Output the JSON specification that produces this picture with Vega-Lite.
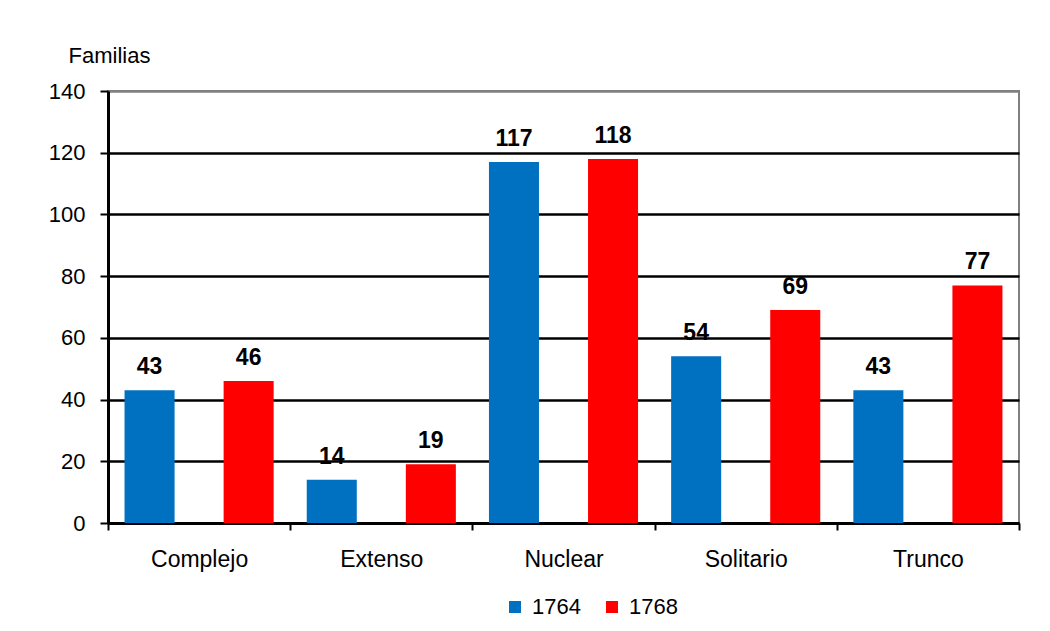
{
  "$schema": "https://vega.github.io/schema/vega-lite/v6.json",
  "autosize": {"type": "none"},
  "width": 911,
  "height": 432,
  "padding": {"left": 108, "top": 91, "right": 31, "bottom": 108},
  "background": "white",
  "config": {
    "font": "Liberation Sans",
    "view": {"stroke": "#808080", "strokeWidth": 2}
  },
  "data": {
    "values": [
      {"tipo": "Complejo", "anio": "1764", "familias": 43},
      {"tipo": "Complejo", "anio": "1768", "familias": 46},
      {"tipo": "Extenso", "anio": "1764", "familias": 14},
      {"tipo": "Extenso", "anio": "1768", "familias": 19},
      {"tipo": "Nuclear", "anio": "1764", "familias": 117},
      {"tipo": "Nuclear", "anio": "1768", "familias": 118},
      {"tipo": "Solitario", "anio": "1764", "familias": 54},
      {"tipo": "Solitario", "anio": "1768", "familias": 69},
      {"tipo": "Trunco", "anio": "1764", "familias": 43},
      {"tipo": "Trunco", "anio": "1768", "familias": 77}
    ]
  },
  "encoding": {
    "x": {
      "field": "tipo", "type": "nominal", "sort": null,
      "scale": {"paddingInner": 0, "paddingOuter": 0},
      "axis": {
        "title": null, "labelAngle": 0, "labelFontSize": 23, "labelColor": "black",
        "labelPadding": 18, "tickBand": "extent", "tickColor": "black", "tickWidth": 2, "tickSize": 7,
        "domainColor": "black", "domainWidth": 3, "grid": false
      }
    },
    "xOffset": {
      "field": "anio", "type": "nominal",
      "scale": {"paddingInner": 0.495, "paddingOuter": 0.167}
    },
    "y": {
      "field": "familias", "type": "quantitative",
      "scale": {"domain": [0, 140], "nice": false},
      "axis": {
        "values": [0, 20, 40, 60, 80, 100, 120, 140],
        "title": "Familias", "titleAngle": 0, "titleAlign": "left", "titleBaseline": "middle",
        "titleX": -40, "titleY": -36, "titleFontSize": 22, "titleFontWeight": "normal", "titleColor": "black",
        "labelFontSize": 22, "labelColor": "black", "labelPadding": 15,
        "tickColor": "black", "tickWidth": 2, "tickSize": 8,
        "domainColor": "black", "domainWidth": 3,
        "grid": true, "gridWidth": 2.5,
        "gridColor": {"condition": {"test": "datum.value == 140", "value": "#808080"}, "value": "black"}
      }
    }
  },
  "layer": [
    {
      "mark": {"type": "bar"},
      "encoding": {
        "color": {
          "field": "anio", "type": "nominal",
          "scale": {"domain": ["1764", "1768"], "range": ["#0070C0", "#FF0000"]},
          "legend": {
            "title": null, "orient": "none", "direction": "horizontal",
            "legendX": 396, "legendY": 505,
            "symbolType": "square", "symbolSize": 144, "symbolStrokeWidth": 0,
            "labelFontSize": 22, "labelColor": "black", "columnPadding": 20, "labelOffset": 6
          }
        }
      }
    },
    {
      "mark": {"type": "text", "fontSize": 23, "fontWeight": "bold", "color": "black", "baseline": "alphabetic", "dy": -16},
      "encoding": {"text": {"field": "familias", "type": "quantitative"}}
    }
  ]
}
